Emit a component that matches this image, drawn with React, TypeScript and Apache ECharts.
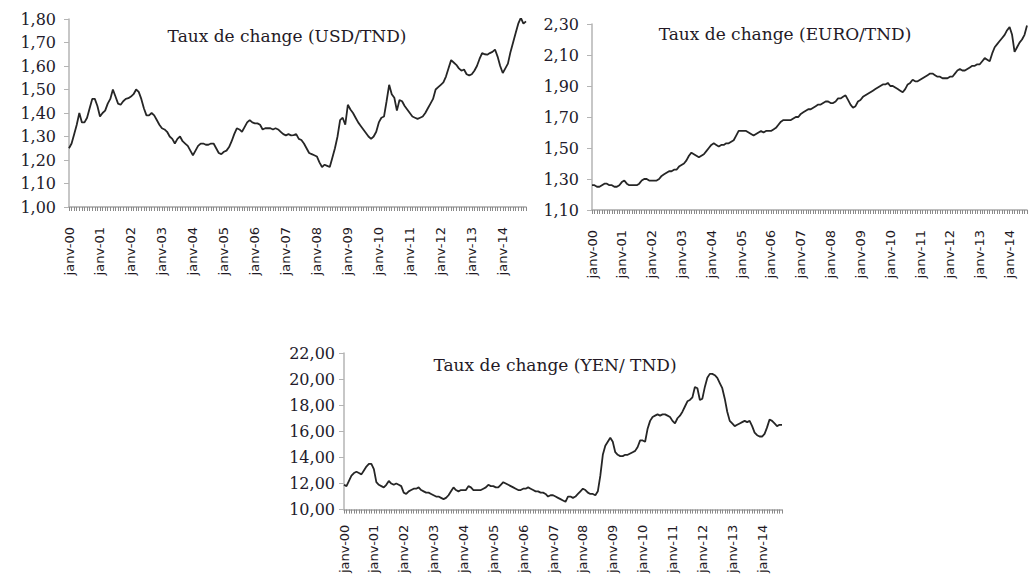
import React, { useEffect, useRef } from "react";
import * as echarts from "echarts";

const monthNames = ["janv", "févr", "mars", "avr", "mai", "juin", "juil", "août", "sept", "oct", "nov", "déc"];
const yearLabels = ["00", "01", "02", "03", "04", "05", "06", "07", "08", "09", "10", "11", "12", "13", "14"];
const months = yearLabels.flatMap((y) => monthNames.map((m) => `${m}-${y}`));

const titles = ["Taux de change (USD/TND)", "Taux de change (EURO/TND)", "Taux de change (YEN/ TND)"];

const usdTnd = [
  1.25, 1.27, 1.31, 1.35, 1.40, 1.36, 1.36, 1.38, 1.42, 1.46, 1.46, 1.43,
  1.385, 1.40, 1.41, 1.44, 1.46, 1.50, 1.47, 1.44, 1.435, 1.45, 1.46, 1.463,
  1.47, 1.48, 1.50, 1.49, 1.46, 1.42, 1.39, 1.39, 1.40, 1.39, 1.37, 1.35,
  1.335, 1.33, 1.32, 1.30, 1.29, 1.27, 1.29, 1.30, 1.28, 1.27, 1.26, 1.24,
  1.22, 1.24, 1.26, 1.27, 1.27, 1.265, 1.265, 1.27, 1.27, 1.25, 1.23, 1.225,
  1.235, 1.24, 1.255, 1.28, 1.31, 1.335, 1.33, 1.32, 1.34, 1.36, 1.37, 1.36,
  1.356, 1.356, 1.35, 1.33, 1.335, 1.335, 1.335, 1.33, 1.335, 1.33, 1.32, 1.31,
  1.305, 1.31, 1.305, 1.306, 1.31, 1.29, 1.285, 1.27, 1.25, 1.23, 1.225, 1.22,
  1.215, 1.19, 1.17, 1.18, 1.175, 1.17, 1.21, 1.25, 1.30, 1.37, 1.38, 1.35,
  1.435, 1.415, 1.40, 1.38, 1.36, 1.345, 1.33, 1.315, 1.30, 1.29, 1.30, 1.32,
  1.36, 1.38, 1.385, 1.45, 1.52, 1.48, 1.465, 1.41, 1.455, 1.45, 1.43, 1.415,
  1.40, 1.385, 1.38, 1.375, 1.38, 1.385, 1.40, 1.42, 1.44, 1.46, 1.50, 1.51,
  1.52, 1.53, 1.555, 1.59, 1.625, 1.615, 1.605, 1.59, 1.58, 1.585, 1.565, 1.56,
  1.565, 1.58, 1.60, 1.63, 1.655, 1.65, 1.648, 1.655, 1.66, 1.67, 1.64, 1.60,
  1.57, 1.59, 1.61, 1.66, 1.70, 1.74, 1.78, 1.805, 1.78, 1.79,
];

const euroTnd = [
  1.26, 1.26, 1.25, 1.25, 1.26, 1.27, 1.27, 1.26, 1.26, 1.25, 1.25, 1.26,
  1.28, 1.29, 1.27, 1.26, 1.26, 1.26, 1.26, 1.27, 1.29, 1.30, 1.30, 1.29,
  1.29, 1.29, 1.29, 1.30, 1.32, 1.33, 1.34, 1.35, 1.35, 1.36, 1.36, 1.38,
  1.39, 1.40, 1.42, 1.45, 1.47, 1.46, 1.45, 1.44, 1.45, 1.46, 1.48, 1.50,
  1.52, 1.53, 1.52, 1.51, 1.52, 1.52, 1.53, 1.53, 1.54, 1.55, 1.58, 1.61,
  1.61, 1.61, 1.61, 1.60, 1.59, 1.58, 1.59, 1.60, 1.61, 1.60, 1.61, 1.61,
  1.61, 1.62, 1.63, 1.65, 1.67, 1.68, 1.68, 1.68, 1.68, 1.69, 1.70, 1.70,
  1.72, 1.73, 1.74, 1.75, 1.75, 1.76, 1.77, 1.78, 1.78, 1.79, 1.80, 1.80,
  1.79, 1.79, 1.80, 1.82, 1.82, 1.83, 1.84, 1.81, 1.78, 1.76, 1.77, 1.80,
  1.81, 1.83, 1.84, 1.85, 1.86, 1.87, 1.88, 1.89, 1.90, 1.91, 1.91, 1.92,
  1.90, 1.90, 1.89, 1.88, 1.87, 1.86, 1.88, 1.91, 1.92, 1.94, 1.93, 1.93,
  1.94, 1.95, 1.96, 1.97, 1.98, 1.98, 1.97, 1.96, 1.96, 1.95, 1.95, 1.95,
  1.96, 1.96, 1.98, 2.00, 2.01, 2.00, 2.00, 2.01, 2.02, 2.03, 2.03, 2.04,
  2.04, 2.06, 2.08, 2.07, 2.06, 2.11, 2.15, 2.17, 2.19, 2.21, 2.23, 2.26,
  2.28, 2.23, 2.12, 2.15, 2.18, 2.20, 2.23, 2.29,
];

const yenTnd = [
  11.9, 11.8, 12.2, 12.6, 12.8, 12.9, 12.8, 12.7, 13.0, 13.3, 13.5, 13.5,
  13.1, 12.1, 11.9, 11.8, 11.7, 11.9, 12.2, 12.0, 11.9, 12.0, 11.9, 11.8,
  11.3, 11.2, 11.4, 11.5, 11.6, 11.6, 11.7, 11.5, 11.4, 11.3, 11.3, 11.2,
  11.1, 11.0, 11.0, 10.9, 10.8, 10.9, 11.1, 11.4, 11.7, 11.5, 11.4, 11.5,
  11.5, 11.5, 11.8, 11.7, 11.5, 11.5, 11.5, 11.5, 11.6, 11.7, 11.9, 11.8,
  11.8, 11.7, 11.7, 11.9, 12.1, 12.0, 11.9, 11.8, 11.7, 11.6, 11.5, 11.5,
  11.6, 11.6, 11.7, 11.6, 11.5, 11.4, 11.4, 11.3, 11.3, 11.2, 11.0, 11.1,
  11.1, 11.0, 10.9, 10.8, 10.7, 10.6, 11.0, 11.0, 10.9, 11.0, 11.2, 11.4,
  11.6, 11.5, 11.3, 11.2, 11.2, 11.1, 11.4, 12.6, 14.2, 14.9, 15.2, 15.5,
  15.2, 14.4, 14.2, 14.1, 14.1, 14.2, 14.2, 14.3, 14.4, 14.5, 14.8, 15.3,
  15.3, 15.2, 16.2, 16.8, 17.1, 17.2, 17.3, 17.2, 17.3, 17.3, 17.2, 17.1,
  16.8, 16.6, 17.0, 17.2, 17.5, 17.9, 18.3, 18.4, 18.6, 19.4, 19.3, 18.4,
  18.5, 19.4, 20.1, 20.4, 20.4, 20.3, 20.1, 19.7, 19.3, 18.5, 17.5, 16.8,
  16.6, 16.4, 16.5, 16.6, 16.7, 16.8, 16.7, 16.8, 16.4, 15.9, 15.7, 15.6,
  15.6, 15.8, 16.3, 16.9, 16.8, 16.6, 16.4, 16.5, 16.5,
];

const seriesList = [usdTnd, euroTnd, yenTnd];
const yMin = [1.0, 1.1, 10];
const yMax = [1.8, 2.3, 22];
const yStep = [0.1, 0.2, 2];

const grids = [
  { left: 69, top: 19, width: 457, height: 188 },
  { left: 592, top: 24, width: 435, height: 186 },
  { left: 344, top: 353, width: 438, height: 157 },
];
const titlePos = [
  [287, 36],
  [785, 34],
  [555, 365],
];
const labelMargin = [20, 20, 15];
const yLabelMargin = [13, 13, 9];

export default function App() {
  const ref = useRef<HTMLDivElement>(null);
  useEffect(() => {
    if (!ref.current) return;
    const chart = echarts.init(ref.current, null, { renderer: "svg" });
    const option: any = {
      animation: false,
      backgroundColor: "#ffffff",
      grid: grids.map((g) => ({ ...g, containLabel: false })),
      xAxis: seriesList.map((s, i) => ({
        type: "category",
        gridIndex: i,
        data: months.slice(0, s.length),
        boundaryGap: false,
        axisLine: { show: true, lineStyle: { color: "#a8a8a8", width: 1.5 } },
        axisTick: { show: true, interval: 0, length: 4, lineStyle: { color: "#8a8a8a", width: 1 } },
        axisLabel: {
          interval: 11,
          rotate: 90,
          margin: labelMargin[i],
          fontSize: 13,
          fontFamily: "DejaVu Sans",
          color: "#1f1a24",
        },
        splitLine: { show: false },
      })),
      yAxis: seriesList.map((_, i) => ({
        type: "value",
        gridIndex: i,
        min: yMin[i],
        max: yMax[i],
        interval: yStep[i],
        axisLine: { show: true, lineStyle: { color: "#b4b4b4", width: 1.5 } },
        axisTick: { show: true, length: 5, lineStyle: { color: "#b4b4b4" } },
        splitLine: { show: false },
        axisLabel: {
          margin: yLabelMargin[i],
          fontSize: 16,
          fontFamily: "DejaVu Serif",
          color: "#231b2b",
          formatter: (v: number) => v.toFixed(2).replace(".", ","),
        },
      })),
      series: seriesList.map((s, i) => ({
        type: "line",
        xAxisIndex: i,
        yAxisIndex: i,
        data: s,
        showSymbol: false,
        symbol: "none",
        silent: true,
        lineStyle: { color: "#262626", width: 1.8 },
      })),
      graphic: titles.map((t, i) => ({
        type: "text",
        x: titlePos[i][0],
        y: titlePos[i][1],
        style: {
          text: t,
          fontFamily: "DejaVu Serif",
          fontSize: 17,
          fill: "#241a26",
          textAlign: "center",
          textVerticalAlign: "middle",
        },
      })),
    };
    chart.setOption(option);
    return () => chart.dispose();
  }, []);
  return (
    <div
      ref={ref}
      style={{ position: "absolute", left: 0, top: 0, width: 1030, height: 576 }}
    />
  );
}
